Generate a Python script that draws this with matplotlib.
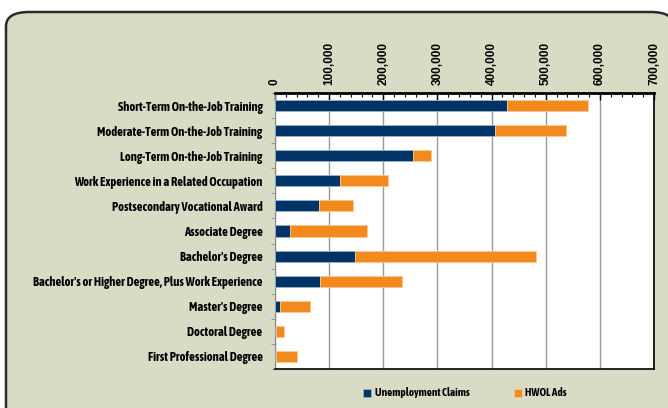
import numpy as np
import matplotlib.pyplot as plt
from matplotlib.patches import FancyBboxPatch
from matplotlib.ticker import MultipleLocator

categories = [
    "Short-Term On-the-Job Training",
    "Moderate-Term On-the-Job Training",
    "Long-Term On-the-Job Training",
    "Work Experience in a Related Occupation",
    "Postsecondary Vocational Award",
    "Associate Degree",
    "Bachelor's Degree",
    "Bachelor's or Higher Degree, Plus Work Experience",
    "Master's Degree",
    "Doctoral Degree",
    "First Professional Degree",
]
claims = [429000, 407000, 254000, 120000, 81000, 28000, 148000, 83000, 9000, 2000, 2000]
ads = [150000, 130000, 34000, 89000, 63000, 141000, 334000, 152000, 56000, 15000, 39000]
x_ticks = [0, 100000, 200000, 300000, 400000, 500000, 600000, 700000]

navy = "#003366"
orange = "#F28A1E"
bg = "#D9DCC5"
narrow = ["Asap Condensed", "DejaVu Sans"]
wide = ["Arimo", "Liberation Sans", "Roboto", "DejaVu Sans"]

fig = plt.figure(figsize=(6.68, 4.08), dpi=100)
fig.patch.set_facecolor("white")

# rounded frame (cut off at right/bottom like the original)
frame = FancyBboxPatch((6 / 668, -0.05), 1.0, 1 - 12 / 408 + 0.05,
                       boxstyle="round,pad=0,rounding_size=0.035",
                       transform=fig.transFigure, facecolor=bg,
                       edgecolor="#2b2b2b", linewidth=1.8, clip_on=False,
                       zorder=-10)
fig.patches.append(frame)

ax = fig.add_axes([275 / 668, 1 - 369 / 408, 379 / 668, 276 / 408])
ax.set_facecolor("white")

y = np.arange(len(categories))
ax.barh(y, claims, height=0.44, color=navy, edgecolor="#9fb3c8", linewidth=0.6,
        label="Unemployment Claims", zorder=3)
ax.barh(y, ads, left=claims, height=0.44, color=orange, edgecolor="#f8c896",
        linewidth=0.6, label="HWOL Ads", zorder=3)

ax.set_xlim(0, 700000)
ax.set_ylim(len(categories) - 0.5, -0.5)
ax.xaxis.tick_top()
ax.set_xticks(x_ticks)
ax.set_xticklabels([f"{v:,}" for v in x_ticks], fontfamily=wide,
                   fontweight="bold", fontsize=8.5, rotation=90)
ax.xaxis.set_minor_locator(MultipleLocator(20000))
ax.tick_params(axis="x", which="major", length=5, width=1, direction="in", pad=6)
ax.tick_params(axis="x", which="minor", length=3, width=0.8, direction="in")
ax.grid(axis="x", color="#999999", linewidth=1, zorder=0)

ax.set_yticks(y)
ax.set_yticklabels(categories, fontfamily=narrow, fontweight="bold", fontsize=9)
ax.set_yticks(np.arange(len(categories) + 1) - 0.5, minor=True)
ax.tick_params(axis="y", which="major", length=0, pad=9)
ax.tick_params(axis="y", which="minor", length=3, color="#888888")

ax.spines["top"].set_linewidth(2)
ax.spines["bottom"].set_linewidth(1.2)
ax.spines["left"].set_color("#888888")
ax.spines["right"].set_linewidth(1.2)

leg = fig.legend(loc="center", bbox_to_anchor=(465 / 668, 1 - 393 / 408), ncol=2,
                 frameon=False, handlelength=0.7, handleheight=0.7,
                 columnspacing=4, handletextpad=0.3,
                 prop={"family": narrow, "weight": "bold", "size": 8})

fig.savefig("out.png", dpi=100, facecolor=fig.get_facecolor())
